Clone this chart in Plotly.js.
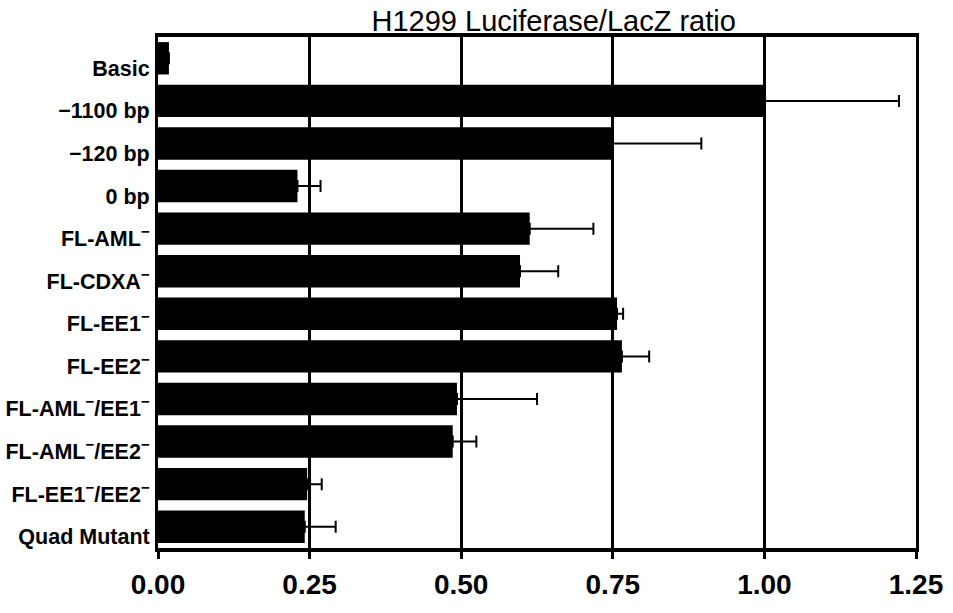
<!DOCTYPE html>
<html>
<head>
<meta charset="utf-8">
<script src="https://cdn.plot.ly/plotly-3.0.1.min.js"></script>
<style>html,body{margin:0;padding:0;background:#fff;}#chart{width:953px;height:613px;}</style>
</head>
<body>
<div id="chart"></div>
<script>
const categories = ["Basic", "−1100 bp", "−120 bp", "0 bp", "FL-AML<sup>−</sup>", "FL-CDXA<sup>−</sup>",
  "FL-EE1<sup>−</sup>", "FL-EE2<sup>−</sup>", "FL-AML<sup>−</sup>/EE1<sup>−</sup>", "FL-AML<sup>−</sup>/EE2<sup>−</sup>",
  "FL-EE1<sup>−</sup>/EE2<sup>−</sup>", "Quad Mutant"];
const ratios = [0.018, 1.000, 0.748, 0.230, 0.613, 0.597, 0.757, 0.765, 0.493, 0.486, 0.246, 0.242];
const errors = [0.000, 0.222, 0.148, 0.038, 0.105, 0.063, 0.010, 0.045, 0.132, 0.039, 0.024, 0.051];
const xTickVals = [0, 0.25, 0.5, 0.75, 1.0, 1.25];
const xTickText = ["0.00", "0.25", "0.50", "0.75", "1.00", "1.25"];
const titleText = "H1299 Luciferase/LacZ ratio";

const trace = {
  type: "bar",
  orientation: "h",
  y: categories,
  x: ratios,
  marker: {color: "#000000", line: {width: 0}},
  error_x: {type: "data", symmetric: false, array: errors, arrayminus: errors.map(() => 0),
            color: "#000000", thickness: 2, width: 6},
  hoverinfo: "none"
};

const layout = {
  width: 953, height: 613,
  margin: {l: 158, r: 37, t: 37, b: 65, pad: 0},
  paper_bgcolor: "#ffffff", plot_bgcolor: "#ffffff",
  showlegend: false,
  bargap: 0.24,
  title: {text: titleText, x: 0.522, xref: "paper", xanchor: "center", y: 1 - 21/613, yref: "container", yanchor: "middle",
          font: {family: "Liberation Sans, Arial, sans-serif", size: 29, color: "#000000"}},
  xaxis: {
    range: [0, 1.25], tickmode: "array", tickvals: xTickVals, ticktext: xTickText,
    showgrid: true, gridcolor: "#000000", gridwidth: 3, zeroline: false,
    showline: true, linecolor: "#000000", linewidth: 4, mirror: true,
    ticks: "outside", ticklen: 7, tickwidth: 3, tickcolor: "#000000",
    ticklabelstandoff: 1,
    tickfont: {family: "Liberation Sans, Arial, sans-serif", size: 28, color: "#000000", weight: "bold"},
    fixedrange: true
  },
  yaxis: {
    type: "category", autorange: "reversed",
    showgrid: false, zeroline: false,
    showline: true, linecolor: "#000000", linewidth: 3, mirror: true,
    ticks: "", ticklabelstandoff: 1, ticklabelshift: -10,
    tickfont: {family: "Liberation Sans, Arial, sans-serif", size: 21.5, color: "#000000", weight: "bold"},
    fixedrange: true
  }
};

Plotly.newPlot("chart", [trace], layout, {staticPlot: true, displayModeBar: false});
</script>
</body>
</html>
